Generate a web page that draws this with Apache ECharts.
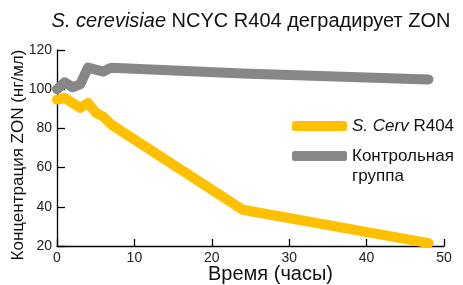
<!DOCTYPE html>
<html><head><meta charset="utf-8">
<script src="https://cdn.jsdelivr.net/npm/echarts@6/dist/echarts.min.js"></script>
<style>html,body{margin:0;padding:0;background:#fff}#c{width:463px;height:285px}</style>
</head><body><div id="c"></div>
<script>
var hours = [0, 1, 2, 3, 4, 5, 6, 7, 24, 48];
var cervValues = [94.7, 95.5, 93, 90.5, 93, 88, 86, 82, 38.5, 21.5];
var controlValues = [100, 103.5, 101, 102.5, 111, 110, 109, 111, 108, 105];
var seriesNames = ['S. Cerv R404', 'Контрольная\nгруппа'];
var xTicks = [0, 10, 20, 30, 40, 50];
var yTicks = [20, 40, 60, 80, 100, 120];

function pairs(xs, ys) { return xs.map(function (x, i) { return [x, ys[i]]; }); }
var FONT = 'Liberation Sans';
var chart = echarts.init(document.getElementById('c'));
chart.setOption({
  animation: false,
  title: {
    text: '{i|S. cerevisiae} NCYC R404 деградирует ZON',
    left: 251, textAlign: 'center', top: 11, padding: 0,
    textStyle: {
      fontFamily: FONT, fontSize: 20, fontWeight: 'normal', color: '#111',
      rich: { i: { fontFamily: FONT, fontSize: 20, fontStyle: 'italic', color: '#111' } }
    }
  },
  legend: {
    orient: 'vertical', left: 292, top: 116, padding: 0, itemGap: -10,
    itemWidth: 55, itemHeight: 10, icon: 'roundRect',
    data: [{ name: seriesNames[0] }, { name: seriesNames[1] }],
    formatter: function (n) { return n === seriesNames[0] ? '{i|S. Cerv} R404' : '\n' + n; },
    textStyle: { fontFamily: FONT, fontSize: 17, color: '#111', lineHeight: 20,
      rich: { i: { fontFamily: FONT, fontSize: 17, fontStyle: 'italic', color: '#111', lineHeight: 20 } } }
  },
  grid: { left: 57, right: 19, top: 50, bottom: 39, outerBoundsMode: 'none' },
  xAxis: {
    type: 'value', min: xTicks[0], max: xTicks[xTicks.length - 1], interval: 10,
    name: 'Время (часы)', nameLocation: 'middle', nameGap: 18, nameMoveOverlap: false,
    nameTextStyle: { fontFamily: FONT, fontSize: 20, color: '#111', padding: [0, 0, 0, 40] },
    axisLine: { show: true, onZero: false, lineStyle: { color: '#000', width: 1.3 } },
    axisTick: { show: true, inside: true, length: 7, lineStyle: { color: '#000', width: 1.3 } },
    axisLabel: { fontFamily: FONT, fontSize: 14, color: '#222', margin: 5 },
    splitLine: { show: false }
  },
  yAxis: {
    type: 'value', min: yTicks[0], max: yTicks[yTicks.length - 1], interval: 20,
    name: 'Концентрация ZON (нг/мл)', nameLocation: 'middle', nameGap: 30, nameMoveOverlap: false,
    nameTextStyle: { fontFamily: FONT, fontSize: 17, color: '#111', padding: [0, 14, 0, 0] },
    axisLine: { show: true, onZero: false, lineStyle: { color: '#000', width: 1.3 } },
    axisTick: { show: true, inside: true, length: 8, lineStyle: { color: '#000', width: 1.3 } },
    axisLabel: { fontFamily: FONT, fontSize: 14, color: '#222', margin: 5 },
    splitLine: { show: false }
  },
  series: [{
    name: seriesNames[0], type: 'line', data: pairs(hours, cervValues),
    showSymbol: false, symbol: 'none',
    lineStyle: { color: '#FFC000', width: 10, cap: 'round', join: 'round' },
    itemStyle: { color: '#FFC000' }
  }, {
    name: seriesNames[1], type: 'line', data: pairs(hours, controlValues),
    showSymbol: false, symbol: 'none',
    lineStyle: { color: '#878787', width: 10, cap: 'round', join: 'round' },
    itemStyle: { color: '#878787' }
  }]
});
</script></body></html>
